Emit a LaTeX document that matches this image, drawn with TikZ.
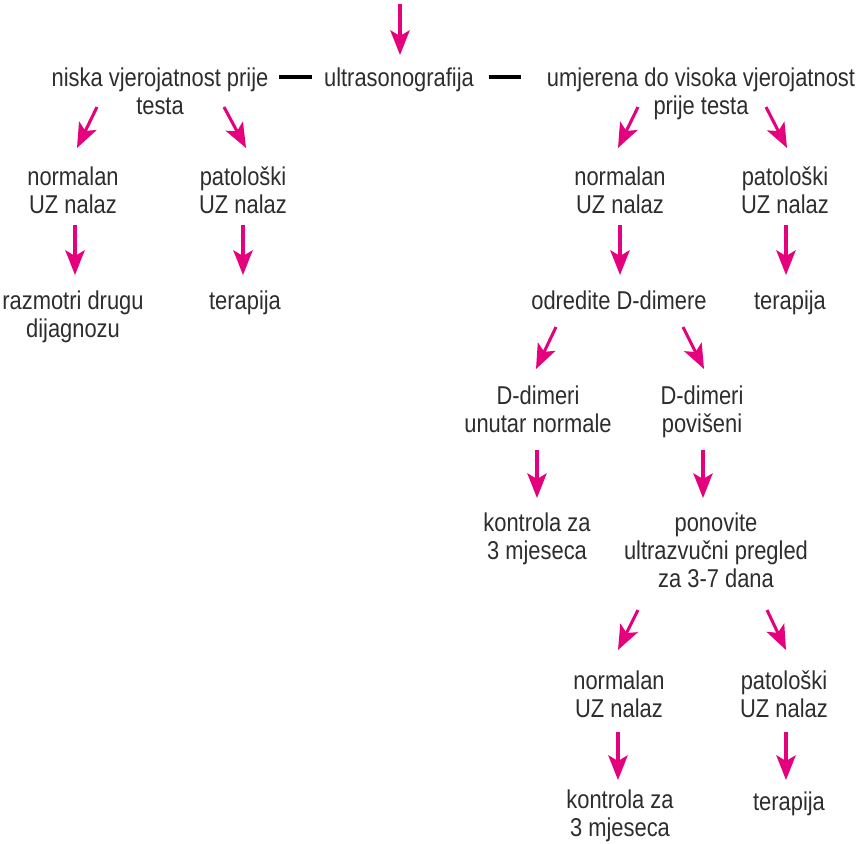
\documentclass[tikz,border=0pt]{standalone}
\usepackage{xcolor}
\usepackage{fontspec}
\setmainfont{Liberation Sans}[FakeStretch=0.85]
\usepackage{tikz}
\usetikzlibrary{arrows.meta, calc}
\definecolor{mymagenta}{RGB}{229,0,125}
\definecolor{mydark}{RGB}{45,45,45}
\tikzset{
  txt/.style={anchor=base, align=center, inner sep=0pt, text=mydark,
    font=\fontsize{22}{23.9}\selectfont},
  arrow/.style={-{Stealth[length=7.4mm, width=5.8mm, inset=1.7mm]},
    line width=2.6pt, color=mymagenta},
  bar/.style={line width=2.6pt, color=black}
}
\begin{document}
\begin{tikzpicture}[x=0.3mm, y=0.3mm]
  \useasboundingbox (0,0) rectangle (858,-843);
  \coordinate (start) at (400,-4);

  % base = last line of each node
  \node[txt] (ultra) at (399,-86) {ultrasonografija};
  \node[txt] (niska) at (160,-114) {niska vjerojatnost prije\\testa};
  \node[txt] (umjer) at (701,-114) {umjerena do visoka vjerojatnost\\prije testa};

  \node[txt] (lnorm) at (73,-213) {normalan\\UZ nalaz};
  \node[txt] (lpato) at (243,-213) {patološki\\UZ nalaz};
  \node[txt] (rnorm) at (620,-213) {normalan\\UZ nalaz};
  \node[txt] (rpato) at (785,-213) {patološki\\UZ nalaz};

  \node[txt] (ldiag) at (73,-337) {razmotri drugu\\dijagnozu};
  \node[txt] (lter) at (245,-309) {terapija};
  \node[txt] (odred) at (619,-309) {odredite D-dimere};
  \node[txt] (rter) at (790,-309) {terapija};

  \node[txt] (dnorm) at (538,-432) {D-dimeri\\unutar normale};
  \node[txt] (dpov) at (702,-432) {D-dimeri\\povišeni};

  \node[txt] (kontra) at (537,-559) {kontrola za\\3 mjeseca};
  \node[txt] (ponov) at (716,-587) {ponovite\\ultrazvučni pregled\\za 3-7 dana};

  \node[txt] (bnorm) at (619,-717) {normalan\\UZ nalaz};
  \node[txt] (bpato) at (784,-717) {patološki\\UZ nalaz};

  \node[txt] (kontrb) at (620,-836) {kontrola za\\3 mjeseca};
  \node[txt] (bter) at (789,-810) {terapija};

  % Edges
  \draw[arrow] (start) -- ($(ultra.base)+(1,31)$);
  \draw[bar] ($(niska.base)+(119,37)$) -- ($(ultra.base)+(-87,9)$);
  \draw[bar] ($(ultra.base)+(90,9)$) -- ($(umjer.base)+(-180,37)$);

  \draw[arrow] ($(niska.base)+(-63,7)$) -- ($(lnorm.base)+(4,65)$);
  \draw[arrow] ($(niska.base)+(64,7)$) -- ($(lpato.base)+(3,65)$);
  \draw[arrow] ($(umjer.base)+(-63,7)$) -- ($(rnorm.base)+(-2,65)$);
  \draw[arrow] ($(umjer.base)+(65,7)$) -- ($(rpato.base)+(2,65)$);

  \draw[arrow] ($(lnorm.base)+(2,-12)$) -- ($(ldiag.base)+(2,62)$);
  \draw[arrow] ($(lpato.base)+(0,-12)$) -- ($(lter.base)+(-2,34)$);
  \draw[arrow] ($(rnorm.base)+(0,-12)$) -- ($(odred.base)+(1,34)$);
  \draw[arrow] ($(rpato.base)+(1,-12)$) -- ($(rter.base)+(-4,34)$);

  \draw[arrow] ($(odred.base)+(-63,-18)$) -- ($(dnorm.base)+(-2,63)$);
  \draw[arrow] ($(odred.base)+(64,-18)$) -- ($(dpov.base)+(2,63)$);

  \draw[arrow] ($(dnorm.base)+(-1,-18)$) -- ($(kontra.base)+(0,61)$);
  \draw[arrow] ($(dpov.base)+(1,-18)$) -- ($(ponov.base)+(-13,89)$);

  \draw[arrow] ($(ponov.base)+(-78,-23)$) -- ($(bnorm.base)+(-1,67)$);
  \draw[arrow] ($(ponov.base)+(51,-23)$) -- ($(bpato.base)+(2,67)$);

  \draw[arrow] ($(bnorm.base)+(-1,-15)$) -- ($(kontrb.base)+(-2,56)$);
  \draw[arrow] ($(bpato.base)+(2,-15)$) -- ($(bter.base)+(-3,30)$);
\end{tikzpicture}
\end{document}
